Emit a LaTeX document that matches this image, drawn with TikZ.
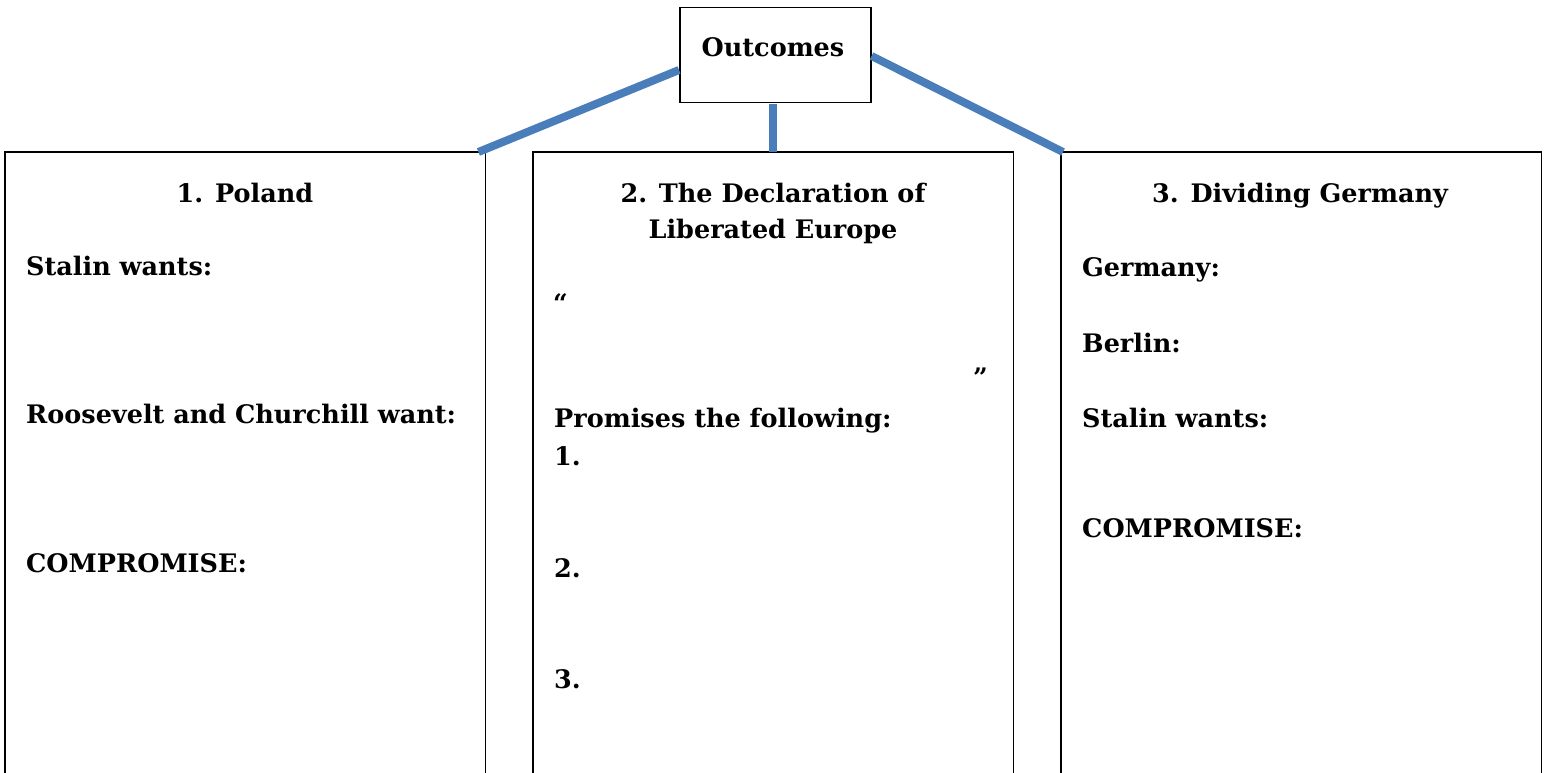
\documentclass[tikz,border=0pt]{standalone}
\usepackage{fontspec}
\setmainfont{DejaVu Serif}
\usetikzlibrary{calc}
\definecolor{connblue}{RGB}{74,126,187}
\tikzset{
  lbl/.style={inner sep=0pt, font=\fontsize{25.5}{30}\selectfont\bfseries},
  frame/.style={draw=black, line width=1.5pt},
  conn/.style={draw=connblue, line width=8pt},
  panel/.style={inner sep=0pt, minimum width=480pt, minimum height=625pt, anchor=north west}
}
\begin{document}
\begin{tikzpicture}[x=1pt,y=-1pt]
\useasboundingbox[fill=white] (0,0) rectangle (1548,773);
% panels
\node[panel] (L) at (5,152) {};
\node[panel] (M) at (533,152) {};
\node[panel] (R) at (1061,152) {};
\draw[frame] (L.south west) -- (L.north west) -- (L.north east) -- (L.south east);
\draw[frame] (M.south west) -- (M.north west) -- (M.north east) -- (M.south east);
\draw[frame] (R.south west) -- (R.north west) -- (R.north east) -- (R.south east);
% top box
\node[frame, fill=white, inner sep=0pt, minimum width=191pt, minimum height=95pt, anchor=north west] (O) at (679,7) {};
\node[lbl, anchor=base] (Ot) at (773,57) {Outcomes};
% connectors
\coordinate (oL) at ($(O.north west)+(0,63)$);
\coordinate (oR) at ($(O.north east)+(0,49)$);
\coordinate (eL) at ($(L.north east)+(-7,0)$);
\coordinate (eR) at ($(R.north west)+(2,0)$);
\coordinate (eM) at (773,152);
\coordinate (oM) at (773,104);
\draw[conn] (oL) -- (eL);
\draw[conn] (oR) -- (eR);
\draw[conn] (oM) -- (eM);
% left panel text
\node[lbl, anchor=base] (t1) at (245,202) {1. Poland};
\node[lbl, anchor=base west] (l1) at (26,275) {Stalin wants:};
\node[lbl, anchor=base west] (l2) at (26,423) {Roosevelt and Churchill want:};
\node[lbl, anchor=base west] (l3) at (26,572) {COMPROMISE:};
% middle panel text
\node[lbl, anchor=base] (t2a) at (773,202) {2. The Declaration of};
\node[lbl, anchor=base] (t2b) at (773,238) {Liberated Europe};
\node[lbl, anchor=base west] (q1) at (553,312) {“};
\node[lbl, anchor=base west] (q2) at (973,386) {”};
\node[lbl, anchor=base west] (m1) at (554,427) {Promises the following:};
\node[lbl, anchor=base west] (m2) at (554,465) {1.};
\node[lbl, anchor=base west] (m3) at (554,577) {2.};
\node[lbl, anchor=base west] (m4) at (554,688) {3.};
% right panel text
\node[lbl, anchor=base] (t3) at (1300,202) {3. Dividing Germany};
\node[lbl, anchor=base west] (r1) at (1082,276) {Germany:};
\node[lbl, anchor=base west] (r2) at (1082,352) {Berlin:};
\node[lbl, anchor=base west] (r3) at (1082,427) {Stalin wants:};
\node[lbl, anchor=base west] (r4) at (1082,537) {COMPROMISE:};
\end{tikzpicture}
\end{document}
